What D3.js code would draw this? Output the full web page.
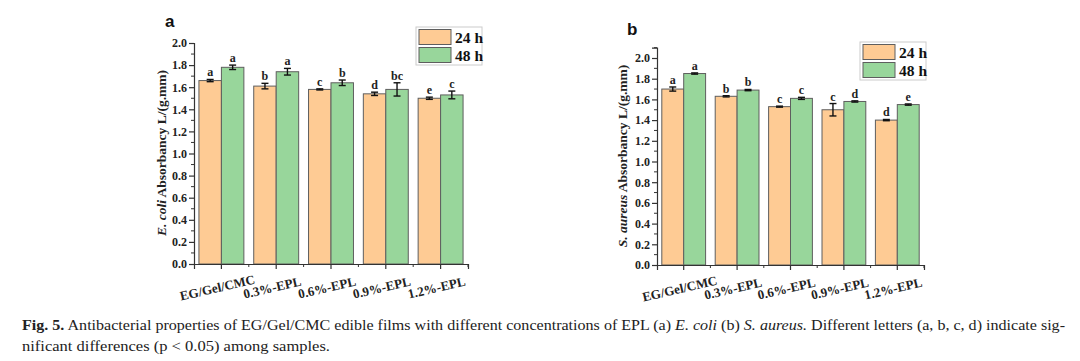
<!DOCTYPE html>
<html>
<head>
<meta charset="utf-8">
<script src="https://cdn.jsdelivr.net/npm/d3@7"></script>
<style>
  body { margin: 0; background: #fff; }
  svg { display: block; }
  .tick-lab { font-family: "Liberation Serif", "Times New Roman", serif; font-weight: bold; font-size: 12px; fill: #222; }
  .x-lab { font-family: "Liberation Serif", "Times New Roman", serif; font-weight: bold; font-size: 13px; fill: #222; }
</style>
</head>
<body>
<div id="chart"></div>
<script>
// categories and series
var categories = ["EG/Gel/CMC", "0.3%-EPL", "0.6%-EPL", "0.9%-EPL", "1.2%-EPL"];
var series = ["24 h", "48 h"];
var yTicks = [0.0, 0.2, 0.4, 0.6, 0.8, 1.0, 1.2, 1.4, 1.6, 1.8, 2.0];

// panel a - E. coli
var ecoli24 = [1.66, 1.61, 1.58, 1.54, 1.50];
var ecoli24Err = [0.01, 0.025, 0.005, 0.015, 0.01];
var ecoli24Sig = ["a", "b", "c", "d", "e"];
var ecoli48 = [1.78, 1.74, 1.64, 1.58, 1.53];
var ecoli48Err = [0.02, 0.03, 0.025, 0.06, 0.035];
var ecoli48Sig = ["a", "a", "b", "bc", "c"];

// panel b - S. aureus
var saureus24 = [1.70, 1.63, 1.53, 1.50, 1.40];
var saureus24Err = [0.02, 0.006, 0.005, 0.06, 0.006];
var saureus24Sig = ["a", "b", "c", "c", "d"];
var saureus48 = [1.85, 1.69, 1.61, 1.58, 1.55];
var saureus48Err = [0.006, 0.006, 0.01, 0.006, 0.006];
var saureus48Sig = ["a", "b", "c", "d", "e"];

var colors = ["#FECB94", "#98D69B"];

var svg = d3.select("#chart").append("svg")
  .attr("width", 1080)
  .attr("height", 361);

svg.append("rect").attr("width", 1080).attr("height", 361).attr("fill", "#fff");

function drawPanel(p) {
  var g = svg.append("g");

  var y = d3.scaleLinear().domain([0, p.yMax]).range([p.y0, p.y0 - p.yMax * p.pxPerUnit]);
  var x = d3.scaleBand().domain(categories).range([p.x0, p.x1])
    .paddingInner(0.18).paddingOuter(0.09);
  var xs = d3.scaleBand().domain(series).range([0, x.bandwidth()]);

  var rows = [];
  categories.forEach(function(c, i) {
    rows.push({ cat: c, s: series[0], v: p.v24[i], e: p.e24[i], sig: p.s24[i] });
    rows.push({ cat: c, s: series[1], v: p.v48[i], e: p.e48[i], sig: p.s48[i] });
  });

  // bars
  g.selectAll("rect.bar").data(rows).enter().append("rect")
    .attr("class", "bar")
    .attr("x", d => x(d.cat) + xs(d.s))
    .attr("y", d => y(d.v))
    .attr("width", xs.bandwidth())
    .attr("height", d => y(0) - y(d.v))
    .attr("fill", d => colors[series.indexOf(d.s)])
    .attr("stroke", "#5e5e5e")
    .attr("stroke-width", 1);

  // error bars
  var eb = g.selectAll("g.err").data(rows).enter().append("g")
    .attr("transform", d => `translate(${x(d.cat) + xs(d.s) + xs.bandwidth() / 2},0)`)
    .attr("stroke", "#111").attr("stroke-width", 1.4);
  eb.append("line").attr("y1", d => y(d.v + d.e)).attr("y2", d => y(d.v - d.e));
  eb.append("line").attr("x1", -3.5).attr("x2", 3.5).attr("y1", d => y(d.v + d.e)).attr("y2", d => y(d.v + d.e));
  eb.append("line").attr("x1", -3.5).attr("x2", 3.5).attr("y1", d => y(d.v - d.e)).attr("y2", d => y(d.v - d.e));

  // significance letters
  g.selectAll("text.sig").data(rows).enter().append("text")
    .attr("class", "tick-lab")
    .attr("x", d => x(d.cat) + xs(d.s) + xs.bandwidth() / 2)
    .attr("y", d => y(d.v + d.e) - 3)
    .attr("text-anchor", "middle")
    .text(d => d.sig);

  // y axis
  var yAxis = d3.axisLeft(y).tickValues(yTicks).tickSize(5).tickFormat(d3.format(".1f"));
  var ya = g.append("g").attr("transform", `translate(${p.x0},0)`).call(yAxis);
  ya.select(".domain").attr("stroke", "#333").attr("stroke-width", 1.2);
  ya.selectAll(".tick line").attr("stroke", "#333").attr("stroke-width", 1.2);
  ya.selectAll(".tick text").attr("class", "tick-lab").attr("x", -7);
  var minor = d3.range(0.1, p.yMax + 0.001, 0.2);
  ya.selectAll("line.minor").data(minor).enter().append("line")
    .attr("x1", -3).attr("x2", 0)
    .attr("y1", d => y(d)).attr("y2", d => y(d))
    .attr("stroke", "#333").attr("stroke-width", 1);

  // x axis
  var xAxis = d3.axisBottom(x).tickSize(5).tickFormat("");
  var xa = g.append("g").attr("transform", `translate(0,${p.y0})`).call(xAxis);
  xa.select(".domain").attr("stroke", "#333").attr("stroke-width", 1.2);
  xa.selectAll(".tick line").attr("stroke", "#333").attr("stroke-width", 1.2);
  xa.selectAll("line.minor").data(categories.slice(1).concat(["end"])).enter().append("line")
    .attr("x1", (d, i) => i < categories.length - 1 ? x(d) - x.step() * 0.09 : p.x1)
    .attr("x2", (d, i) => i < categories.length - 1 ? x(d) - x.step() * 0.09 : p.x1)
    .attr("y1", 0).attr("y2", 3)
    .attr("stroke", "#333").attr("stroke-width", 1);
  g.selectAll("text.xlab").data(categories).enter().append("text")
    .attr("class", "x-lab")
    .attr("text-anchor", "middle")
    .attr("transform", d => `translate(${x(d) + x.bandwidth() / 2 - 3},${p.y0 + 28}) rotate(-13)`)
    .text(d => d);

  // y title
  var yt = g.append("text")
    .attr("transform", `translate(${p.titleX},${p.titleY}) rotate(-90)`)
    .attr("text-anchor", "middle")
    .style("font-family", '"Liberation Serif", "Times New Roman", serif')
    .style("font-weight", "bold")
    .style("font-size", "13.5px")
    .attr("fill", "#222");
  yt.append("tspan").style("font-style", "italic").text(p.organism);
  yt.append("tspan").text(" Absorbancy L/(g.mm)");

  // panel letter
  g.append("text")
    .attr("x", p.letterX).attr("y", p.letterY)
    .style("font-family", '"Liberation Sans", Arial, sans-serif')
    .style("font-weight", "bold")
    .style("font-size", "17px")
    .attr("fill", "#111")
    .text(p.letter);

  // legend
  var lg = g.append("g").attr("transform", `translate(${p.legX},${p.legY})`);
  lg.append("rect").attr("width", 66).attr("height", 38)
    .attr("fill", "#fff").attr("stroke", "#ccc").attr("stroke-width", 1);
  series.forEach(function(s, i) {
    lg.append("rect").attr("x", 3).attr("y", 2.5 + i * 18).attr("width", 32).attr("height", 15)
      .attr("fill", colors[i]).attr("stroke", "#5e5e5e").attr("stroke-width", 1);
    lg.append("text").attr("x", 39).attr("y", 15.5 + i * 18)
      .style("font-family", '"Liberation Serif", "Times New Roman", serif')
      .style("font-weight", "bold").style("font-size", "15.5px")
      .attr("fill", "#111")
      .text(s);
  });
}

drawPanel({
  x0: 194, x1: 468, y0: 264, pxPerUnit: 110.5, yMax: 2.0,
  v24: ecoli24, e24: ecoli24Err, s24: ecoli24Sig,
  v48: ecoli48, e48: ecoli48Err, s48: ecoli48Sig,
  organism: "E. coli", titleX: 166, titleY: 153,
  letter: "a", letterX: 165, letterY: 27,
  legX: 416, legY: 27
});

drawPanel({
  x0: 657, x1: 924, y0: 265, pxPerUnit: 103.5, yMax: 2.1,
  v24: saureus24, e24: saureus24Err, s24: saureus24Sig,
  v48: saureus48, e48: saureus48Err, s48: saureus48Sig,
  organism: "S. aureus", titleX: 627, titleY: 156,
  letter: "b", letterX: 627, letterY: 35,
  legX: 860, legY: 42
});

// caption
var capFont = '"Liberation Serif", "Times New Roman", serif';
var c1 = svg.append("text").attr("x", 22).attr("y", 330)
  .attr("textLength", 1043).attr("lengthAdjust", "spacingAndGlyphs")
  .style("font-family", capFont).style("font-size", "14px").attr("fill", "#222");
c1.append("tspan").style("font-weight", "bold").text("Fig. 5.");
c1.append("tspan").text("  Antibacterial properties of EG/Gel/CMC edible films with different concentrations of EPL (a) ");
c1.append("tspan").style("font-style", "italic").text("E. coli");
c1.append("tspan").text(" (b) ");
c1.append("tspan").style("font-style", "italic").text("S. aureus.");
c1.append("tspan").text(" Different letters (a, b, c, d) indicate sig-");

svg.append("text").attr("x", 22).attr("y", 351)
  .attr("textLength", 308).attr("lengthAdjust", "spacingAndGlyphs")
  .style("font-family", capFont).style("font-size", "14px").attr("fill", "#222")
  .text("nificant differences (p < 0.05) among samples.");
</script>
</body>
</html>
